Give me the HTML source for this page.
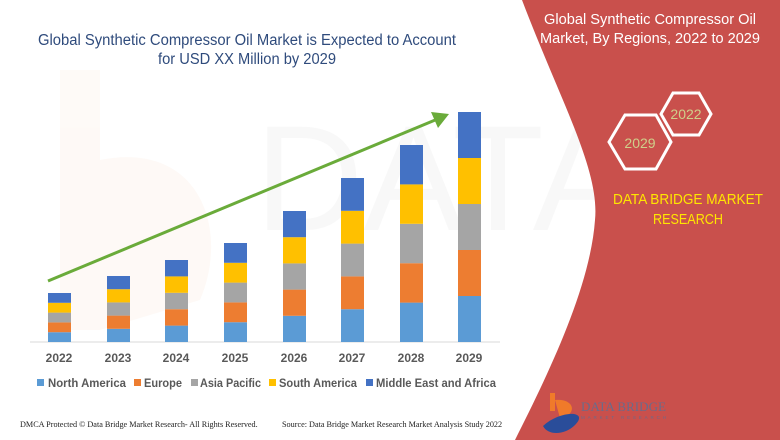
<!DOCTYPE html>
<html><head><meta charset="utf-8"><style>
html,body{margin:0;padding:0;background:#fff;}
svg{display:block;font-family:"Liberation Sans",sans-serif;}
</style></head><body>
<svg width="780" height="440" viewBox="0 0 780 440" xmlns="http://www.w3.org/2000/svg">
<rect width="780" height="440" fill="#fff"/>
<g opacity="0.035">
<rect x="60" y="70" width="40" height="260" fill="#e86a1a"/>
<path d="M100,160 C200,140 230,230 200,300 L100,330 Z" fill="#e86a1a"/>
<text x="255" y="230" font-size="150" fill="#555">DATA BRIDGE</text>
</g>
<path d="M522,0 C560,100 600,170 595,220 C590,290 545,380 515,440 L780,440 L780,0 Z" fill="#c9504c"/>
<text x="650" y="24" font-size="14.5" fill="#fff" text-anchor="middle" textLength="212" lengthAdjust="spacingAndGlyphs">Global Synthetic Compressor Oil</text>
<text x="650" y="43" font-size="14.5" fill="#fff" text-anchor="middle" textLength="220" lengthAdjust="spacingAndGlyphs">Market, By Regions, 2022 to 2029</text>
<polygon points="661,114 673,93 699,93 711,114 699,135 673,135" fill="none" stroke="#fff" stroke-width="3"/>
<polygon points="609,142 625,115 656,115 671,142 656,169 625,169" fill="none" stroke="#fff" stroke-width="3"/>
<text x="686" y="119" font-size="14" fill="#cfcf8a" text-anchor="middle">2022</text>
<text x="640" y="148" font-size="14" fill="#cfcf8a" text-anchor="middle">2029</text>
<text x="688" y="204" font-size="14.5" fill="#ffe600" text-anchor="middle" textLength="150" lengthAdjust="spacingAndGlyphs">DATA BRIDGE MARKET</text>
<text x="688" y="224" font-size="14.5" fill="#ffe600" text-anchor="middle" textLength="70" lengthAdjust="spacingAndGlyphs">RESEARCH</text>
<rect x="550" y="393" width="5" height="18" fill="#f07a2a"/>
<path d="M555,400 C575,398 578,415 560,418 Z" fill="#f07a2a"/>
<path d="M543,426 C560,410 590,410 575,425 C565,435 548,436 543,426 Z" fill="#2a4d9a"/>
<text x="581" y="411" font-size="13" fill="#6b6b8a" font-family="Liberation Serif" textLength="85" lengthAdjust="spacingAndGlyphs">DATA BRIDGE</text>
<text x="581" y="419" font-size="4.5" fill="#6b6b8a" textLength="85" lengthAdjust="spacing">MARKET RESEARCH</text>
<text x="247" y="45" font-size="15.5" fill="#2f4b7c" text-anchor="middle" textLength="418" lengthAdjust="spacingAndGlyphs">Global Synthetic Compressor Oil Market is Expected to Account</text>
<text x="247" y="64" font-size="15.5" fill="#2f4b7c" text-anchor="middle" textLength="178" lengthAdjust="spacingAndGlyphs">for USD XX Million by 2029</text>
<line x1="30" y1="342" x2="500" y2="342" stroke="#d9d9d9" stroke-width="1"/>
<g>
<rect x="48" y="332.2" width="23" height="9.8" fill="#5b9bd5"/><rect x="48" y="322.4" width="23" height="9.8" fill="#ed7d31"/><rect x="48" y="312.6" width="23" height="9.8" fill="#a5a5a5"/><rect x="48" y="302.8" width="23" height="9.8" fill="#ffc000"/><rect x="48" y="293" width="23" height="9.8" fill="#4472c4"/>
<rect x="107" y="328.8" width="23" height="13.2" fill="#5b9bd5"/><rect x="107" y="315.6" width="23" height="13.2" fill="#ed7d31"/><rect x="107" y="302.4" width="23" height="13.2" fill="#a5a5a5"/><rect x="107" y="289.2" width="23" height="13.2" fill="#ffc000"/><rect x="107" y="276" width="23" height="13.2" fill="#4472c4"/>
<rect x="165" y="325.6" width="23" height="16.4" fill="#5b9bd5"/><rect x="165" y="309.2" width="23" height="16.4" fill="#ed7d31"/><rect x="165" y="292.8" width="23" height="16.4" fill="#a5a5a5"/><rect x="165" y="276.4" width="23" height="16.4" fill="#ffc000"/><rect x="165" y="260" width="23" height="16.4" fill="#4472c4"/>
<rect x="224" y="322.2" width="23" height="19.8" fill="#5b9bd5"/><rect x="224" y="302.4" width="23" height="19.8" fill="#ed7d31"/><rect x="224" y="282.6" width="23" height="19.8" fill="#a5a5a5"/><rect x="224" y="262.8" width="23" height="19.8" fill="#ffc000"/><rect x="224" y="243" width="23" height="19.8" fill="#4472c4"/>
<rect x="283" y="315.8" width="23" height="26.2" fill="#5b9bd5"/><rect x="283" y="289.6" width="23" height="26.2" fill="#ed7d31"/><rect x="283" y="263.4" width="23" height="26.2" fill="#a5a5a5"/><rect x="283" y="237.2" width="23" height="26.2" fill="#ffc000"/><rect x="283" y="211" width="23" height="26.2" fill="#4472c4"/>
<rect x="341" y="309.2" width="23" height="32.8" fill="#5b9bd5"/><rect x="341" y="276.4" width="23" height="32.8" fill="#ed7d31"/><rect x="341" y="243.6" width="23" height="32.8" fill="#a5a5a5"/><rect x="341" y="210.8" width="23" height="32.8" fill="#ffc000"/><rect x="341" y="178" width="23" height="32.8" fill="#4472c4"/>
<rect x="400" y="302.6" width="23" height="39.4" fill="#5b9bd5"/><rect x="400" y="263.2" width="23" height="39.4" fill="#ed7d31"/><rect x="400" y="223.8" width="23" height="39.4" fill="#a5a5a5"/><rect x="400" y="184.4" width="23" height="39.4" fill="#ffc000"/><rect x="400" y="145" width="23" height="39.4" fill="#4472c4"/>
<rect x="458" y="296" width="23" height="46" fill="#5b9bd5"/><rect x="458" y="250" width="23" height="46" fill="#ed7d31"/><rect x="458" y="204" width="23" height="46" fill="#a5a5a5"/><rect x="458" y="158" width="23" height="46" fill="#ffc000"/><rect x="458" y="112" width="23" height="46" fill="#4472c4"/>
</g>
<line x1="48" y1="281" x2="440" y2="118" stroke="#6aab3a" stroke-width="3"/>
<polygon points="449,114 431,112 438,128" fill="#6aab3a"/>
<g font-size="12" font-weight="bold" fill="#595959" text-anchor="middle">
<text x="59" y="362">2022</text><text x="118" y="362">2023</text><text x="176" y="362">2024</text><text x="235" y="362">2025</text>
<text x="294" y="362">2026</text><text x="352" y="362">2027</text><text x="411" y="362">2028</text><text x="469" y="362">2029</text>
</g>
<g font-size="12" font-weight="bold" fill="#595959">
<rect x="37" y="379" width="7" height="7" fill="#5b9bd5"/><text x="48" y="387" textLength="78" lengthAdjust="spacingAndGlyphs">North America</text>
<rect x="134" y="379" width="7" height="7" fill="#ed7d31"/><text x="144" y="387" textLength="38" lengthAdjust="spacingAndGlyphs">Europe</text>
<rect x="191" y="379" width="7" height="7" fill="#a5a5a5"/><text x="200" y="387" textLength="61" lengthAdjust="spacingAndGlyphs">Asia Pacific</text>
<rect x="269" y="379" width="7" height="7" fill="#ffc000"/><text x="279" y="387" textLength="78" lengthAdjust="spacingAndGlyphs">South America</text>
<rect x="366" y="379" width="7" height="7" fill="#4472c4"/><text x="376" y="387" textLength="120" lengthAdjust="spacingAndGlyphs">Middle East and Africa</text>
</g>
<g font-family="Liberation Serif" font-size="8.2" fill="#222">
<text x="20" y="427">DMCA Protected © Data Bridge Market Research- All Rights Reserved.</text>
<text x="282" y="427">Source: Data Bridge Market Research Market Analysis Study 2022</text>
</g>
</svg>
</body></html>
